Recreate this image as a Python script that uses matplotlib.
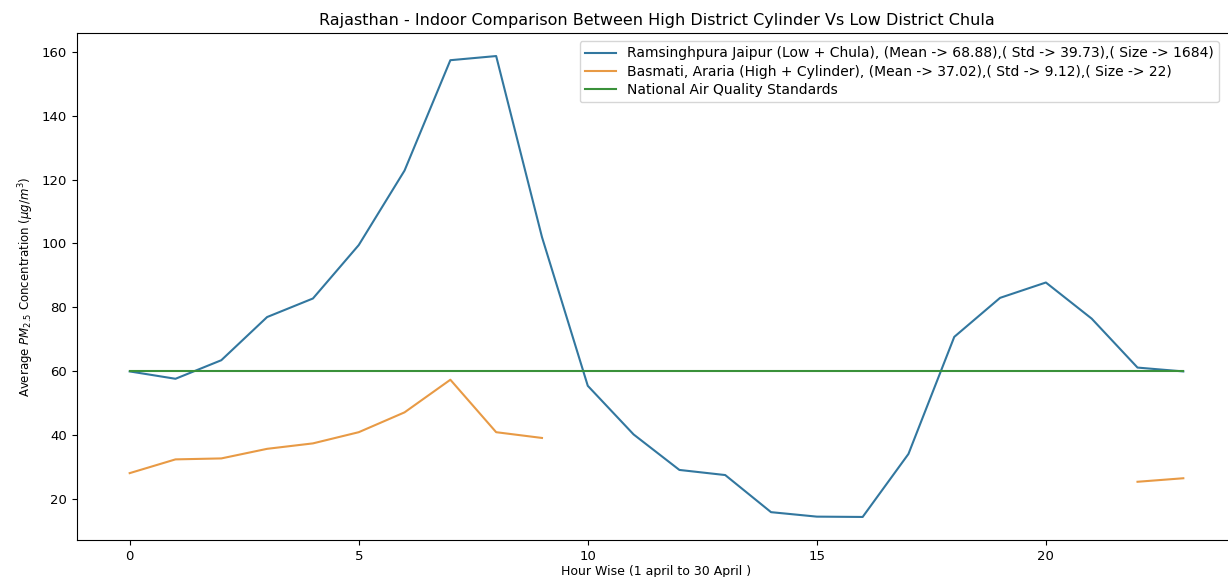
import numpy as np
import matplotlib
matplotlib.use("Agg")
import matplotlib.pyplot as plt

# Hour of day
hours = list(range(24))

# Ramsinghpura Jaipur (Low + Chula) hourly mean PM2.5
jaipur = [60.0, 57.7, 63.5, 77.0, 82.8, 99.5, 122.8, 157.3, 158.6, 102.0,
          55.5, 40.3, 29.2, 27.6, 16.0, 14.6, 14.5, 34.2, 70.8, 83.0,
          87.8, 76.5, 61.2, 60.0]

# Basmati, Araria (High + Cylinder) — missing hours as NaN
araria = [28.2, 32.5, 32.8, 35.8, 37.5, 41.0, 47.2, 57.4, 41.0, 39.2,
          np.nan, np.nan, np.nan, np.nan, np.nan, np.nan, np.nan, np.nan,
          np.nan, np.nan, np.nan, np.nan, 25.5, 26.6]

naaqs = [60] * 24

labels = [
    "Ramsinghpura Jaipur (Low + Chula), (Mean -> 68.88),( Std -> 39.73),( Size -> 1684)",
    "Basmati, Araria (High + Cylinder), (Mean -> 37.02),( Std -> 9.12),( Size -> 22)",
    "National Air Quality Standards",
]

W, H = 1228, 577
fig = plt.figure(figsize=(W / 100, H / 100), dpi=100)
# the original screenshot cuts the right edge of the axes off
ax = fig.add_axes([77 / W, 1 - 540 / H, (1236 - 77) / W, (540 - 33) / H])

ax.plot(hours, jaipur, color="#32779f", label=labels[0])
ax.plot(hours, araria, color="#e89a45", label=labels[1])
ax.plot(hours, naaqs, color="#3a913a", label=labels[2])

ax.set_title("Rajasthan - Indoor Comparison Between High District Cylinder Vs Low District Chula",
             fontsize=11.5)
ax.set_xlabel("Hour Wise (1 april to 30 April )", fontsize=9, labelpad=2)
ax.set_ylabel(r"Average $PM_{2.5}$ Concentration ($\mu g/m^3$)", fontsize=8.5)
ax.tick_params(labelsize=9.5)
ax.legend(loc="upper right", fontsize=10, labelspacing=0.3, handlelength=2.2,
          bbox_to_anchor=(1226 / W, 1 - 34 / H), bbox_transform=fig.transFigure)

fig.savefig("out.png", dpi=100)
